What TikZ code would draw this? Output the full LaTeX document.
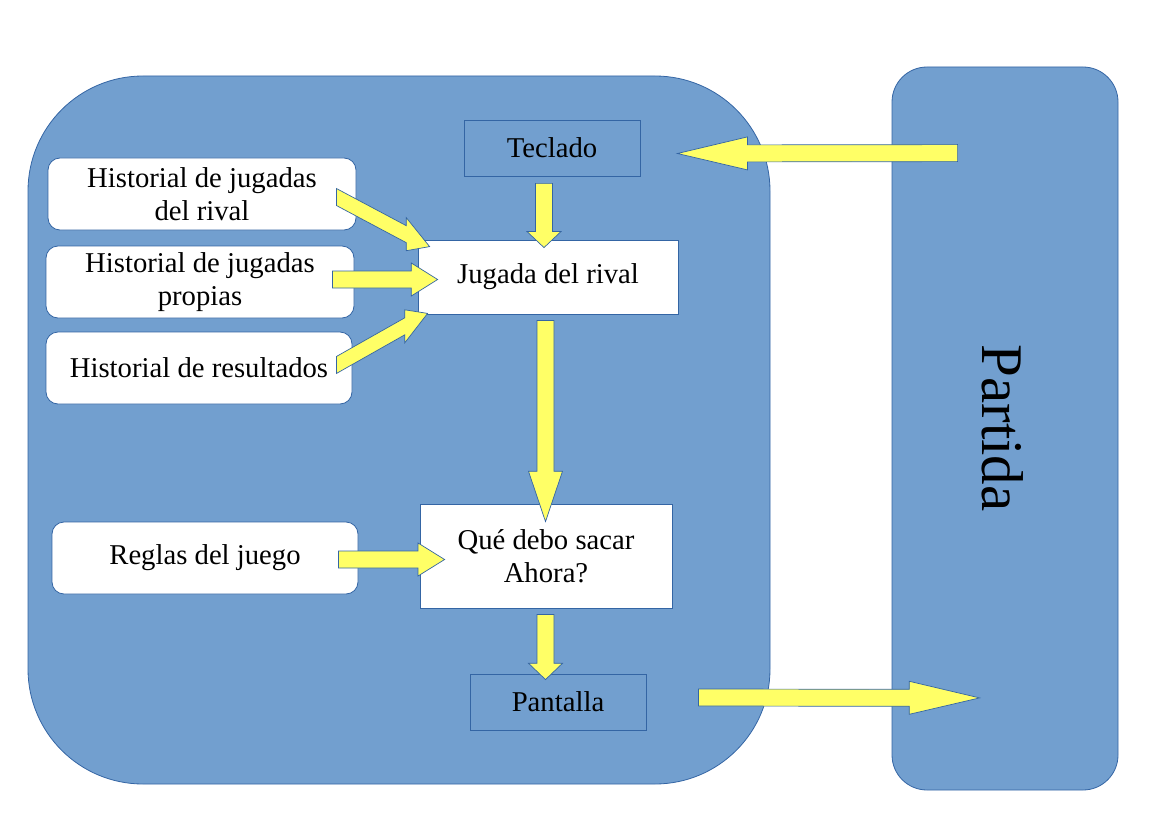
\documentclass[tikz,border=0pt]{standalone}
\usepackage{fontspec}
\setmainfont{Liberation Serif}
\usetikzlibrary{positioning,calc}

\definecolor{azul}{HTML}{729FCF}
\definecolor{borde}{HTML}{3465A4}
\definecolor{amarillo}{HTML}{FFFF66}

\tikzset{
  panel/.style={draw=borde, fill=azul, line width=0.8pt, inner sep=0},
  histbox/.style={draw=borde, fill=white, line width=0.8pt, rounded corners=12pt,
    minimum width=307pt, minimum height=72pt, align=center, inner sep=0},
  whitebox/.style={draw=borde, fill=white, line width=0.8pt, align=center, inner sep=0},
  bluebox/.style={draw=borde, fill=azul, line width=0.8pt, minimum width=176pt,
    minimum height=56pt, inner sep=0},
  yarrow/.style={draw=borde, fill=amarillo, line width=0.7pt, line join=miter}
}

% flecha de bloque horizontal (cortes verticales)
\newcommand{\harrow}[2]{%
  \coordinate (ha) at (#1); \coordinate (hb) at (#2);
  \coordinate (hm) at ($(ha)!0.75!(hb)$);
  \draw[yarrow] let \p1=(ha), \p2=(hb), \p3=(hm) in
    (\x1,\y1+8.5pt) -- (\x3,\y3+8.5pt) -- (\x3,\y3+16.5pt) -- (\x2,\y2)
    -- (\x3,\y3-16.5pt) -- (\x3,\y3-8.5pt) -- (\x1,\y1-8.5pt) -- cycle;}
% flecha de bloque vertical
\newcommand{\varrow}[2]{%
  \coordinate (va) at (#1); \coordinate (vb) at (#2);
  \coordinate (vm) at ($(va)!0.75!(vb)$);
  \draw[yarrow] let \p1=(va), \p2=(vb), \p3=(vm) in
    (\x1-8.5pt,\y1) -- (\x3-8.5pt,\y3) -- (\x3-17pt,\y3) -- (\x2,\y2)
    -- (\x3+17pt,\y3) -- (\x3+8.5pt,\y3) -- (\x1+8.5pt,\y1) -- cycle;}

\begin{document}
\begin{tikzpicture}[x=1pt, y=-1pt, font=\fontsize{28.7}{33}\selectfont]
  \useasboundingbox (0,0) rectangle (1169,821);

  \node[panel, rounded corners=115pt, minimum width=742pt, minimum height=708pt]
    (programa) at (399,430) {};
  \node[panel, rounded corners=35pt, minimum width=226pt, minimum height=723pt]
    (partida) at (1005,428.5) {};
  \node[rotate=-90, font=\fontsize{59}{60}\selectfont] (partidatxt) at (1003,428) {Partida};

  \node[bluebox] (teclado) at (552,148) {Teclado};
  \node[whitebox, minimum width=260pt, minimum height=74pt] (jugada) at (548,277) {Jugada del rival};
  \node[whitebox, minimum width=252pt, minimum height=104pt] (que) at (546,556) {Qué debo sacar\\Ahora?};
  \node[bluebox] (pantalla) at (558,702) {Pantalla};

  \node[histbox, minimum width=308pt] (hrival) at (202,194) {Historial de jugadas\\del rival};
  \node[histbox, minimum width=308pt] (hpropias) at (200,282) {Historial de jugadas\\propias};
  \node[histbox, minimum width=306pt] (hresult) at (199,368) {Historial de resultados};
  \node[histbox, minimum width=306pt] (reglas) at (205,558) {Reglas del juego};

  \varrow{$(teclado.south)+(-8,7)$}{$(jugada.north)+(-4,8)$}
  \varrow{$(jugada.south)+(-2.5,6)$}{$(que.north)+(-0.5,18)$}
  \varrow{$(que.south)+(-0.5,6)$}{$(pantalla.north)+(-12.5,6)$}

  \harrow{$(hrival.east)+(-20,3)$}{$(jugada.north west)+(12,7)$}
  \harrow{$(hpropias.east)+(-22,-2.5)$}{$(jugada.west)+(20,2.5)$}
  \harrow{$(hresult.east)+(-16,-3)$}{$(jugada.south west)+(10,-1)$}
  \harrow{$(reglas.east)+(-20,1.5)$}{$(que.west)+(25,3.5)$}

  \harrow{$(partida.north west)+(66,86.5)$}{$(teclado.east)+(37,5.5)$}
  \harrow{$(pantalla.east)+(52,-4.5)$}{$(partida.south west)+(88,-92.5)$}
\end{tikzpicture}
\end{document}
